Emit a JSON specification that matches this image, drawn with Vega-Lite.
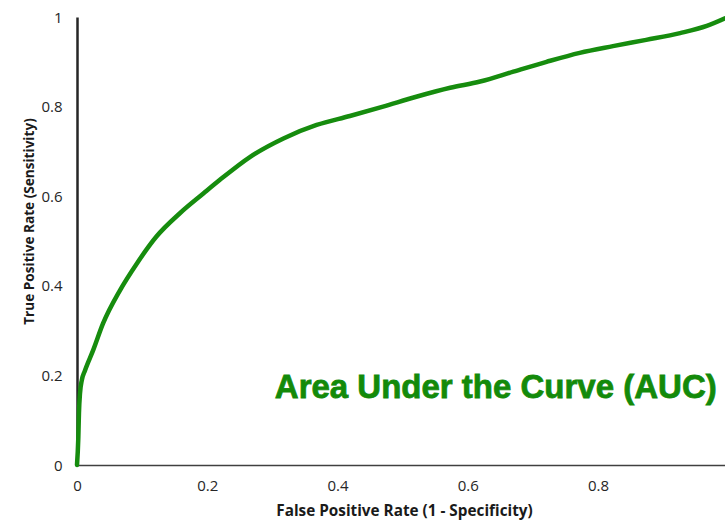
{
  "$schema": "https://vega.github.io/schema/vega-lite/v6.json",
  "autosize": "none",
  "width": 648,
  "height": 448,
  "padding": {"left": 77, "top": 17, "right": 0, "bottom": 59},
  "config": {"view": {"stroke": null}, "font": "Open Sans"},
  "datasets": {
    "roc": [
      {"fpr": 0.0, "tpr": 0.0},
      {"fpr": 0.002, "tpr": 0.06},
      {"fpr": 0.003, "tpr": 0.116},
      {"fpr": 0.0046, "tpr": 0.16},
      {"fpr": 0.0075, "tpr": 0.19},
      {"fpr": 0.012, "tpr": 0.21},
      {"fpr": 0.025, "tpr": 0.257},
      {"fpr": 0.04, "tpr": 0.316},
      {"fpr": 0.066, "tpr": 0.39},
      {"fpr": 0.092, "tpr": 0.45},
      {"fpr": 0.122, "tpr": 0.51},
      {"fpr": 0.158, "tpr": 0.562},
      {"fpr": 0.194, "tpr": 0.606},
      {"fpr": 0.219, "tpr": 0.636},
      {"fpr": 0.266, "tpr": 0.688},
      {"fpr": 0.317, "tpr": 0.729},
      {"fpr": 0.368, "tpr": 0.759},
      {"fpr": 0.419, "tpr": 0.779},
      {"fpr": 0.47, "tpr": 0.8},
      {"fpr": 0.521, "tpr": 0.822},
      {"fpr": 0.573, "tpr": 0.842},
      {"fpr": 0.619, "tpr": 0.856},
      {"fpr": 0.67, "tpr": 0.878},
      {"fpr": 0.721, "tpr": 0.9},
      {"fpr": 0.772, "tpr": 0.92},
      {"fpr": 0.823, "tpr": 0.935},
      {"fpr": 0.874, "tpr": 0.949},
      {"fpr": 0.926, "tpr": 0.964},
      {"fpr": 0.967, "tpr": 0.98},
      {"fpr": 0.995, "tpr": 0.997}
    ],
    "note": [
      {"fpr": 0.643, "tpr": 0.172, "label": "Area Under the Curve (AUC)"}
    ]
  },
  "layer": [
    {
      "data": {"name": "roc"},
      "mark": {"type": "line", "interpolate": "monotone", "color": "#168c0e", "strokeWidth": 4.5, "strokeCap": "round", "clip": false},
      "encoding": {
        "x": {
          "field": "fpr", "type": "quantitative",
          "scale": {"domain": [0, 0.995], "nice": false, "zero": false},
          "axis": {
            "title": "False Positive Rate (1 - Specificity)",
            "values": [0, 0.2, 0.4, 0.6, 0.8],
            "format": "~g",
            "grid": false, "ticks": false,
            "domainColor": "#404040", "domainWidth": 1.5,
            "labelFontSize": 15, "labelColor": "#262626", "labelPadding": 13,
            "labelFlush": false,
            "titleFontSize": 15.3, "titleFontWeight": "bold", "titleColor": "#1a1a1a",
            "titleX": 327, "titlePadding": 10
          }
        },
        "y": {
          "field": "tpr", "type": "quantitative",
          "scale": {"domain": [0, 1], "nice": false},
          "axis": {
            "title": "True Positive Rate (Sensitivity)",
            "values": [0, 0.2, 0.4, 0.6, 0.8, 1],
            "format": "~g",
            "grid": false, "ticks": false,
            "domainColor": "#262626", "domainWidth": 2.5,
            "labelFontSize": 15, "labelColor": "#262626", "labelPadding": 15,
            "labelFlush": false,
            "titleFontSize": 13.6, "titleFontWeight": "bold", "titleColor": "#1a1a1a",
            "titleY": 204, "titlePadding": 4
          }
        }
      }
    },
    {
      "data": {"name": "note"},
      "mark": {"type": "text", "font": "Liberation Sans", "fontWeight": "bold", "fontSize": 33, "color": "#138a0a", "stroke": "#138a0a", "strokeWidth": 0.8, "align": "center", "baseline": "middle"},
      "encoding": {
        "x": {"field": "fpr", "type": "quantitative"},
        "y": {"field": "tpr", "type": "quantitative"},
        "text": {"field": "label"}
      }
    }
  ]
}
